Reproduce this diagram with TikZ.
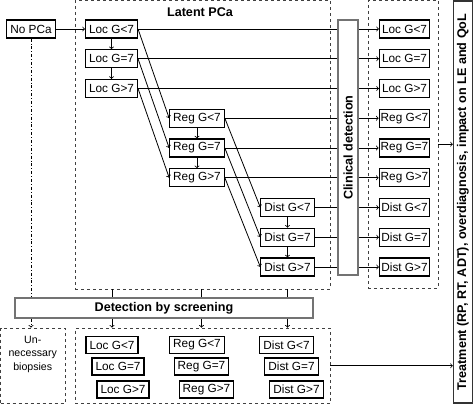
\documentclass[tikz,border=0pt]{standalone}
\usepackage{fontspec}
\setmainfont{Liberation Sans}
\usetikzlibrary{shapes, arrows}

\begin{document}
\begin{tikzpicture}[auto, x=1pt, y=-1pt, >=to, node distance=29.75pt, line width=0.8pt]
\tikzstyle{block} = [draw, rectangle, line width=1.1pt, minimum height=18pt, inner xsep=3.5pt, inner ysep=0pt, font=\fontsize{11.8}{13}\selectfont]
\tikzstyle{outblock} = [block, minimum width=50pt, inner xsep=1.5pt]
\tikzstyle{botblock} = [block, minimum height=17pt]
\tikzstyle{group} = [draw=black!75, dashed, line width=0.7pt, rectangle, inner sep=0pt]
\tikzstyle{bar} = [draw=black!55, line width=1.3pt, fill=white, rectangle, inner sep=0pt, font=\fontsize{12.6}{14}\selectfont\bfseries]
\tikzstyle{title} = [font=\fontsize{12.6}{14}\selectfont\bfseries]

\useasboundingbox (0,0) rectangle (473,404);

    % dashed groups
    \node [group, minimum width=255pt, minimum height=288.5pt] (latent) at (202.5,144.75) {};
    \node [title] (latentlbl) at (200,12) {Latent PCa};
    \node [group, minimum width=70pt, minimum height=287.5pt] (outbox) at (403,144.25) {};
    \node [group, minimum width=64.5pt, minimum height=75.5pt] (unnec) at (32.75,365.75) {};
    \node [group, minimum width=255pt, minimum height=75.5pt] (bottom) at (202.5,365.75) {};

    % latent disease states
    \node [block] (nopca) at (31,29) {No PCa};
    \node [block] (locA) at (111.5,29) {Loc G<7};
    \node [block, below of = locA] (locB) {Loc G=7};
    \node [block, below of = locB] (locC) {Loc G>7};
    \node [block] (regA) at (197,118.25) {Reg G<7};
    \node [block, below of = regA] (regB) {Reg G=7};
    \node [block, below of = regB] (regC) {Reg G>7};
    \node [block] (distA) at (287.5,207.5) {Dist G<7};
    \node [block, below of = distA] (distB) {Dist G=7};
    \node [block, below of = distB] (distC) {Dist G>7};

    % clinically detected states
    \node [outblock] (outLocA) at (404.5,29) {Loc G<7};
    \node [outblock, below of = outLocA] (outLocB) {Loc G=7};
    \node [outblock, below of = outLocB] (outLocC) {Loc G>7};
    \node [outblock, below of = outLocC] (outRegA) {Reg G<7};
    \node [outblock, below of = outRegA] (outRegB) {Reg G=7};
    \node [outblock, below of = outRegB] (outRegC) {Reg G>7};
    \node [outblock, below of = outRegC] (outDistA) {Dist G<7};
    \node [outblock, below of = outDistA] (outDistB) {Dist G=7};
    \node [outblock, below of = outDistB] (outDistC) {Dist G>7};

    % screen detected states
    \node [botblock] (botLocA) at (112,345) {Loc G<7};
    \node [botblock] (botLocB) at (118,366.5) {Loc G=7};
    \node [botblock] (botLocC) at (123,389.5) {Loc G>7};
    \node [botblock] (botRegA) at (197,345) {Reg G<7};
    \node [botblock] (botRegB) at (201.5,366.5) {Reg G=7};
    \node [botblock] (botRegC) at (206.5,389.5) {Reg G>7};
    \node [botblock] (botDistA) at (286.5,345) {Dist G<7};
    \node [botblock] (botDistB) at (291.5,366.5) {Dist G=7};
    \node [botblock] (botDistC) at (296.5,389.5) {Dist G>7};
    \node [align=center, font=\fontsize{10.6}{13.5}\selectfont] (unnectext) at (32.75,354) {Un-\\necessary\\biopsies};

    % progression
    \draw [->] (nopca) -- (locA);
    \foreach \a/\b in {locA/locB, locB/locC, regA/regB, regB/regC, distA/distB, distB/distC}
        \draw [->] (\a) -- (\b);
    \foreach \a/\b in {locA/regA, locB/regB, locC/regC, regA/distA, regB/distB, regC/distC}
        \draw [->] (\a.east) -- (\b.west);
    \foreach \a/\b in {locA/outLocA, locB/outLocB, locC/outLocC, regA/outRegA, regB/outRegB, regC/outRegC, distA/outDistA, distB/outDistB, distC/outDistC}
        \draw [->] (\a.east) -- (\b.west);

    \node [bar, rotate=90, minimum width=255pt, minimum height=20pt] (clinic) at (348,147.5) {Clinical detection};
    \node [bar, minimum width=298pt, minimum height=20pt] (screen) at (164,308) {Detection by screening};
    \node [bar, draw=black!80, rotate=90, minimum width=402pt, minimum height=19pt] (treat) at (463,202) {Treatment (RP, RT, ADT), overdiagnosis, impact on LE and QoL};

    % screening
    \draw [dash dot] (nopca) -- (nopca |- screen.north);
    \draw [->, dash dot] (nopca |- screen.south) -- (nopca |- unnec.north);
    \foreach \b in {botLocA, botRegB, distA} {
        \draw (latent.south -| \b) -- (screen.north -| \b);
        \draw [->] (screen.south -| \b) -- (bottom.north -| \b);
    }

    % treatment
    \draw [->] (outbox.east) -- (outbox.east -| treat.north);
    \draw [->] (bottom.east) -- (bottom.east -| treat.north);

\end{tikzpicture}
\end{document}
